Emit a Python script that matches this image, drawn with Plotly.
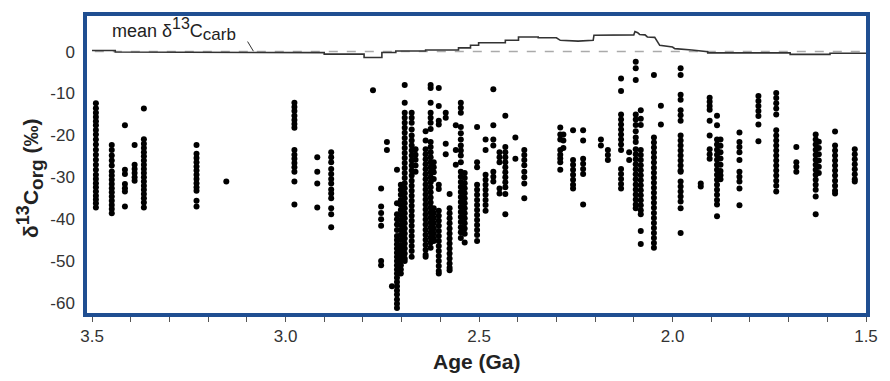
import plotly.graph_objects as go

# ---- data ----
col_ages = [3.490, 3.449, 3.415, 3.390, 3.366, 3.230, 3.153, 2.977, 2.918, 2.882,
            2.774, 2.753, 2.738, 2.725, 2.712, 2.702, 2.692, 2.674, 2.664, 2.638,
            2.625, 2.617, 2.604, 2.586, 2.576, 2.560, 2.547, 2.537, 2.505, 2.483,
            2.463, 2.447, 2.432, 2.406, 2.383, 2.290, 2.282, 2.257, 2.231, 2.185,
            2.167, 2.133, 2.112, 2.095, 2.082, 2.048, 2.030, 1.979, 1.927, 1.904,
            1.885, 1.876, 1.827, 1.778, 1.732, 1.680, 1.630, 1.622, 1.580, 1.529]

col_values = [
    [-12.3, -13.5, -14.6, -15.6, -16.6, -17.6, -18.7, -19.8, -21.0, -22.2, -23.4, -24.6, -25.8,
     -27.0, -28.2, -29.4, -30.4, -31.4, -32.4, -33.4, -34.4, -35.3, -36.2, -37.2],
    [-22.3, -23.5, -24.8, -26.0, -27.2, -28.6, -29.6, -30.6, -31.6, -32.6, -33.6, -34.6, -35.6,
     -36.6, -37.6, -38.6],
    [-17.6, -28.2, -29.2, -31.6, -32.6, -33.4, -37.0],
    [-22.3, -27.0, -28.0, -29.0, -30.0, -30.8],
    [-13.6, -20.9, -22.0, -23.0, -24.0, -25.0, -26.0, -27.0, -28.0, -29.0, -30.0, -31.0, -32.0,
     -33.0, -34.0, -35.0, -36.0, -37.2],
    [-22.3, -24.4, -25.4, -26.4, -27.4, -28.4, -29.4, -30.4, -31.4, -32.4, -33.2, -35.6, -37.0],
    [-31.0],
    [-12.2, -13.2, -14.2, -15.3, -16.3, -17.3, -18.2, -23.5, -24.6, -25.6, -26.6, -27.6, -28.7,
     -31.0, -36.5],
    [-25.2, -28.7, -31.5, -37.2],
    [-24.0, -25.2, -26.4, -28.0, -29.2, -30.4, -31.5, -32.9, -33.9, -35.0, -37.4, -38.8, -41.9],
    [-9.2],
    [-32.7, -37.0, -38.5, -40.0, -41.6, -50.0, -51.0],
    [-21.6, -23.5],
    [-56.0],
    [-28.2, -36.2, -38.8, -40.0, -41.3, -42.6, -44.0, -45.0, -46.0, -47.0, -48.0, -49.0, -50.0,
     -51.0, -52.0, -53.0, -54.0, -55.0, -56.0, -57.0, -58.0, -59.2, -60.2, -61.2],
    [-31.8, -33.0, -34.2, -35.4, -36.6, -37.8, -39.0, -40.2, -41.4, -42.6, -43.8, -45.0, -46.2,
     -47.4, -48.6, -49.8, -51.0, -52.0, -53.0],
    [-8.0, -12.2, -14.6, -15.8, -17.0, -18.2, -19.4, -20.6, -21.8, -23.0, -24.2, -25.4, -26.6,
     -27.8, -29.0, -30.2, -31.4, -32.6, -33.8, -35.0, -36.2, -37.4, -38.6, -39.8, -41.0, -42.2,
     -43.4, -44.6, -45.8, -47.0, -48.2, -49.4, -50.0],
    [-14.6, -15.8, -17.0, -18.6, -20.0, -21.2, -22.4, -23.6, -24.8, -26.0, -27.2, -28.4, -29.6,
     -30.8, -32.0, -33.2, -34.4, -35.6, -36.8, -38.0, -39.2, -40.4, -41.6, -42.8, -44.0, -45.2,
     -46.4, -47.6, -49.0],
    [-23.3, -24.6, -25.8, -27.2, -28.7],
    [-19.0, -21.2, -23.3, -24.5, -25.7, -26.9, -28.1, -29.3, -30.5, -31.7, -32.9, -34.1, -35.3,
     -36.5, -37.7, -38.9, -40.1, -41.3, -42.5, -43.7, -44.9, -46.1, -47.3, -48.5, -49.0],
    [-8.0, -8.7, -12.2, -14.6, -15.8, -17.0, -18.5, -21.6, -22.8, -24.0, -25.2, -26.4, -27.6,
     -28.8, -30.0, -31.2, -32.4, -33.6, -34.8, -36.0, -37.2, -38.4, -39.6, -40.8, -42.0, -43.2,
     -44.4, -45.6, -46.8],
    [-26.4, -27.6, -28.8, -30.4, -37.4, -38.6, -39.8, -41.0, -42.2, -43.4, -44.6, -45.2],
    [-8.7, -13.0, -16.5, -17.4, -31.8, -32.8, -38.0, -39.2, -40.4, -41.6, -42.8, -44.0, -45.2,
     -46.4, -47.6, -48.8, -50.0, -51.2, -52.4, -53.0],
    [-14.6, -15.8, -22.0, -24.5],
    [-34.0, -37.4, -38.6, -39.8, -41.0, -42.2, -43.4, -44.6, -45.8, -47.0, -48.2, -49.4, -50.6,
     -51.6, -52.2],
    [-17.6, -23.5, -27.0],
    [-12.2, -13.4, -14.6, -18.0, -19.5, -21.0, -22.4, -23.6, -24.8, -26.4, -28.7, -29.9, -31.1,
     -32.3, -33.5, -34.7, -35.9, -37.1, -38.3, -39.5, -40.7, -41.9, -43.1, -44.5],
    [-29.0, -30.2, -31.4, -32.6, -33.8, -35.0, -36.2, -37.4, -38.6, -39.8, -41.0, -42.2, -43.5,
     -45.6],
    [-18.0, -26.4, -27.6, -31.8, -33.0, -34.2, -35.4, -36.6, -37.8, -39.0, -40.2, -41.4, -42.6,
     -43.8, -45.2],
    [-21.0, -23.5, -29.4, -30.6, -31.8, -33.0, -34.2, -35.4, -36.6, -38.0],
    [-9.0, -17.6, -21.0, -22.4, -28.7, -29.9, -31.0],
    [-24.0, -25.2, -26.4, -32.7, -33.9],
    [-15.3, -22.8, -24.0, -25.2, -26.4, -27.6, -28.8, -30.0, -31.2, -32.4, -34.0, -38.8],
    [-20.5, -25.6],
    [-23.5, -24.7, -25.9, -27.1, -28.7, -30.0, -31.5, -35.0],
    [-18.1, -19.8, -21.0, -23.5, -24.6, -25.5, -26.4, -28.2],
    [-19.8, -21.2, -23.0],
    [-18.8, -25.9, -27.0, -28.2, -29.4, -30.6, -31.8, -32.7],
    [-18.8, -21.2, -25.6, -26.8, -28.0, -29.2, -36.5],
    [-21.0, -22.4],
    [-23.5, -24.7, -25.9],
    [-6.4, -9.4, -15.0, -16.2, -17.4, -18.6, -19.8, -21.0, -22.2, -23.5, -28.0, -29.2, -30.4,
     -31.6, -32.7],
    [-24.0, -25.9],
    [-2.4, -4.0, -6.8, -15.0, -16.2, -17.5, -19.0, -20.5, -21.6, -23.3, -24.5, -25.7, -26.9,
     -28.1, -29.3, -30.5, -31.7, -32.9, -34.1, -35.3, -36.5, -37.4],
    [-14.0, -16.0, -17.5, -23.5, -24.7, -25.9, -27.1, -28.3, -29.5, -30.7, -31.9, -33.1, -34.3,
     -35.5, -36.7, -37.9, -38.8, -42.8, -45.9],
    [-5.6, -20.5, -21.7, -22.9, -24.1, -25.3, -26.5, -27.7, -28.9, -30.1, -31.3, -32.5, -33.7,
     -34.9, -36.1, -37.3, -38.5, -39.7, -40.9, -42.1, -43.3, -44.5, -45.7, -46.8],
    [-12.9, -17.4],
    [-4.0, -5.6, -10.3, -11.5, -14.0, -15.2, -16.5, -20.0, -21.2, -22.4, -23.6, -24.8, -26.0,
     -27.2, -28.4, -28.7, -31.0, -32.2, -33.4, -34.6, -35.8, -37.4, -43.3],
    [-31.5, -32.2],
    [-11.0, -12.0, -13.0, -13.9, -16.5, -20.0, -23.3, -24.5, -25.6],
    [-15.3, -17.6, -21.0, -22.2, -23.4, -24.6, -25.8, -27.0, -28.2, -29.4, -30.6, -31.8, -33.0,
     -34.2, -35.4, -36.5, -39.3],
    [-21.0, -22.5, -24.0, -25.5, -27.0, -28.5, -29.5, -30.5],
    [-19.3, -21.6, -22.8, -24.0, -25.9, -28.7, -29.9, -31.0, -32.7, -36.7],
    [-10.6, -11.8, -13.0, -14.2, -15.4, -17.4, -21.4],
    [-9.9, -11.1, -12.3, -13.6, -15.0, -18.8, -20.0, -21.2, -22.4, -23.6, -24.8, -26.0, -27.2,
     -28.4, -29.6, -30.8, -32.0, -33.4],
    [-22.8, -26.4, -27.5, -28.7],
    [-19.8, -21.0, -22.2, -23.4, -24.6, -25.8, -27.0, -28.2, -29.4, -30.6, -31.8, -33.0, -34.6,
     -38.8],
    [-21.5, -23.0, -24.5, -26.0, -27.5, -29.0],
    [-19.1, -22.4, -23.6, -24.8, -26.0, -27.2, -28.4, -29.6, -30.8, -32.0, -33.2, -33.9],
    [-23.3, -24.5, -25.7, -26.9, -28.1, -29.3, -30.5, -31.0],
]

# mean d13C carb curve (vertices of the stepped line)
carb_ages = [3.50, 3.44, 3.44, 3.02, 2.90, 2.90, 2.797, 2.797, 2.751, 2.751, 2.715, 2.715,
             2.638, 2.638, 2.553, 2.553, 2.522, 2.522, 2.501, 2.501, 2.432, 2.432, 2.398,
             2.398, 2.347, 2.347, 2.300, 2.290, 2.244, 2.205, 2.203, 2.100, 2.097, 2.090,
             2.085, 2.071, 2.065, 2.046, 2.033, 2.000, 1.994, 1.950, 1.909, 1.909, 1.696,
             1.696, 1.593, 1.593, 1.500]
carb_vals = [0.25, 0.25, -0.1, -0.2, -0.25, -0.6, -0.6, -1.4, -1.4, -0.2, -0.2, 0.15,
             0.15, 0.4, 0.4, 0.9, 0.9, 1.5, 1.5, 2.1, 2.1, 2.7, 2.7,
             3.5, 3.5, 3.3, 3.3, 2.7, 2.5, 2.7, 3.9, 4.0, 4.8, 4.5,
             4.1, 4.0, 3.5, 3.4, 1.5, 1.1, 0.7, 0.4, 0.0, -0.3, -0.3,
             -0.65, -0.65, -0.4, -0.4]

x_tickvals = [3.5, 3.0, 2.5, 2.0, 1.5]
x_ticktext = ["3.5", "3.0", "2.5", "2.0", "1.5"]
y_tickvals = [0, -10, -20, -30, -40, -50, -60]
y_ticktext = ["0", "-10", "-20", "-30", "-40", "-50", "-60"]

# ---- build figure ----
pt_ages, pt_vals = [], []
for a, vs in zip(col_ages, col_values):
    pt_ages += [a] * len(vs)
    pt_vals += vs

FONT = "Liberation Sans, Arial, sans-serif"
BLUE = "#1F4E91"

fig = go.Figure()
fig.add_trace(go.Scatter(x=pt_ages, y=pt_vals, mode="markers",
                         marker=dict(size=6, color="#000000", line=dict(width=0)),
                         hoverinfo="skip", showlegend=False))
fig.add_trace(go.Scatter(x=carb_ages, y=carb_vals, mode="lines",
                         line=dict(color="#333333", width=1.6),
                         hoverinfo="skip", showlegend=False))

fig.add_shape(type="line", xref="paper", yref="y", x0=0.01, x1=1, y0=0, y1=0,
              line=dict(color="#aaaaaa", width=1.5, dash="dash"), layer="below")
fig.add_shape(type="line", xref="x", yref="y", x0=3.098, y0=2.4, x1=3.083, y1=0.1,
              line=dict(color="#333333", width=1))

fig.add_annotation(x=3.454, y=5.3, xref="x", yref="y", xanchor="left", yanchor="middle",
                   showarrow=False,
                   text='mean δ<sup><span style="font-size:16px">13</span></sup>C'
                        '<sub><span style="font-size:17px">carb</span></sub>',
                   font=dict(family=FONT, size=18, color="#222222"))

fig.add_annotation(x=0.5, y=-0.163, xref="paper", yref="paper", xanchor="center",
                   yanchor="middle", showarrow=False, text="<b>Age (Ga)</b>",
                   font=dict(family=FONT, size=21, color="#222222"))
fig.add_annotation(x=-0.073, y=0.452, xref="paper", yref="paper", xanchor="center",
                   yanchor="middle", showarrow=False, textangle=-90,
                   text='<b>δ<sup><span style="font-size:18px">13</span></sup>C'
                        '<sub><span style="font-size:19px">org</span></sub> (‰)</b>',
                   font=dict(family=FONT, size=21, color="#222222"))

fig.update_layout(
    width=890, height=381,
    margin=dict(l=87, r=21, t=12, b=68),
    paper_bgcolor="white", plot_bgcolor="white",
    font=dict(family=FONT, size=17, color="#333333"),
    xaxis=dict(range=[3.513, 1.5], tickvals=x_tickvals, ticktext=x_ticktext,
               ticks="outside", ticklen=5, tickwidth=1.3, tickcolor="#555555",
               minor=dict(dtick=0.1, tick0=1.5, ticks="outside", ticklen=5,
                          tickwidth=1.3, tickcolor="#555555"),
               showline=True, linecolor=BLUE, linewidth=3.5, mirror=True,
               showgrid=False, zeroline=False,
               tickfont=dict(family=FONT, size=17, color="#333333")),
    yaxis=dict(range=[-62.4, 8.5], tickvals=y_tickvals, ticktext=y_ticktext,
               ticks="", ticklabelstandoff=5,
               showline=True, linecolor=BLUE, linewidth=3.5, mirror=True,
               showgrid=False, zeroline=False,
               tickfont=dict(family=FONT, size=17, color="#333333")),
)

fig.write_html("out.html", config={"displayModeBar": False},
               post_script="document.body.style.margin='0';"
                           "document.body.style.overflow='hidden';")
